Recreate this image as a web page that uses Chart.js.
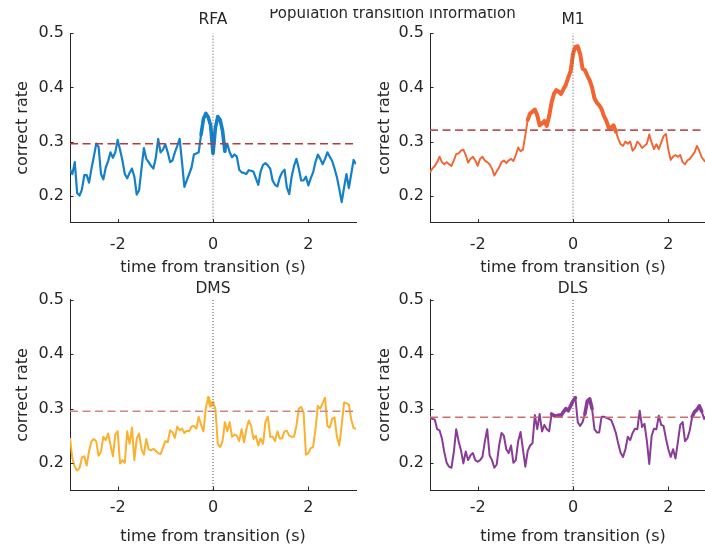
<!DOCTYPE html>
<html>
<head>
<meta charset="utf-8">
<script src="https://cdn.jsdelivr.net/npm/chart.js@4.4.1/dist/chart.umd.min.js"></script>
<style>
  html, body { margin: 0; padding: 0; background: #fff; }
  #figure { position: relative; width: 705px; height: 550px; overflow: hidden; background: #fff; }
  #figure canvas { position: absolute; }
  #suptitle { position: absolute; left: 0; top: 9px; width: 705px; height: 14px; overflow: hidden; }
  #suptitle span { position: absolute; left: 0; top: -5px; width: 785px; text-align: center;
    font: 15px "DejaVu Sans", sans-serif; line-height: 18px; color: #262626; white-space: nowrap; }
</style>
</head>
<body>
<div id="figure">
  <canvas id="rfa" width="360" height="280" style="left:0;top:0;width:360px;height:280px"></canvas>
  <canvas id="m1" width="360" height="280" style="left:360px;top:0;width:360px;height:280px"></canvas>
  <canvas id="dms" width="360" height="280" style="left:0;top:270px;width:360px;height:280px"></canvas>
  <canvas id="dls" width="360" height="280" style="left:360px;top:270px;width:360px;height:280px"></canvas>
  <div id="suptitle"><span>Population transition information</span></div>
</div>
<script>
// time bins, -3 s .. 3 s every 50 ms
var times = [];
for (var i = 0; i <= 120; i++) {
    times.push(Math.round((-3 + i * 0.05) * 100) / 100);
}

var xTickValues = [-2, 0, 2];
var yTickValues = [0.2, 0.3, 0.4, 0.5];

//correct rate per region
var rfaRate = [
    0.249, 0.240, 0.262, 0.205, 0.200, 0.211, 0.238, 0.238, 0.224, 0.250,
    0.272, 0.296, 0.290, 0.240, 0.230, 0.252, 0.264, 0.280, 0.270, 0.280,
    0.303, 0.285, 0.265, 0.240, 0.232, 0.242, 0.250, 0.235, 0.202, 0.210,
    0.250, 0.288, 0.268, 0.262, 0.255, 0.250, 0.270, 0.305, 0.280, 0.285,
    0.295, 0.280, 0.262, 0.265, 0.280, 0.292, 0.305, 0.262, 0.216, 0.228,
    0.240, 0.252, 0.276, 0.278, 0.280, 0.313, 0.342, 0.352, 0.345, 0.330,
    0.278, 0.325, 0.346, 0.340, 0.320, 0.282, 0.296, 0.280, 0.271, 0.276,
    0.272, 0.248, 0.243, 0.242, 0.240, 0.247, 0.246, 0.244, 0.232, 0.220,
    0.245, 0.257, 0.260, 0.256, 0.250, 0.228, 0.220, 0.217, 0.233, 0.243,
    0.248, 0.215, 0.203, 0.235, 0.255, 0.268, 0.250, 0.228, 0.228, 0.235,
    0.219, 0.232, 0.243, 0.262, 0.276, 0.268, 0.258, 0.268, 0.280, 0.272,
    0.264, 0.250, 0.234, 0.212, 0.188, 0.215, 0.240, 0.214, 0.240, 0.266, 0.258
];
var m1Rate = [
    0.243, 0.250, 0.255, 0.262, 0.272, 0.262, 0.258, 0.262, 0.258, 0.255,
    0.265, 0.277, 0.278, 0.283, 0.285, 0.275, 0.261, 0.268, 0.272, 0.265,
    0.255, 0.268, 0.272, 0.265, 0.262, 0.258, 0.250, 0.237, 0.245, 0.252,
    0.262, 0.265, 0.260, 0.265, 0.268, 0.264, 0.275, 0.289, 0.282, 0.285,
    0.312, 0.340, 0.352, 0.355, 0.359, 0.348, 0.330, 0.333, 0.338, 0.329,
    0.347, 0.372, 0.388, 0.395, 0.392, 0.388, 0.397, 0.405, 0.418, 0.430,
    0.462, 0.475, 0.476, 0.462, 0.435, 0.432, 0.422, 0.413, 0.400, 0.380,
    0.372, 0.367, 0.360, 0.347, 0.338, 0.325, 0.326, 0.330, 0.318, 0.305,
    0.295, 0.292, 0.300, 0.296, 0.300, 0.283, 0.288, 0.300, 0.295, 0.288,
    0.292, 0.296, 0.313, 0.298, 0.286, 0.295, 0.286, 0.298, 0.310, 0.314,
    0.285, 0.266, 0.272, 0.275, 0.272, 0.275, 0.262, 0.258, 0.265, 0.268,
    0.274, 0.280, 0.292, 0.283, 0.271, 0.265, 0.261, 0.262, 0.266, 0.270, 0.268
];
var dmsRate = [
    0.246, 0.208, 0.193, 0.186, 0.190, 0.210, 0.212, 0.195, 0.222, 0.240,
    0.244, 0.240, 0.213, 0.220, 0.248, 0.242, 0.254, 0.233, 0.212, 0.252,
    0.258, 0.199, 0.205, 0.200, 0.258, 0.235, 0.265, 0.205, 0.245, 0.254,
    0.225, 0.215, 0.244, 0.225, 0.223, 0.226, 0.222, 0.218, 0.216, 0.228,
    0.240, 0.238, 0.260, 0.256, 0.246, 0.267, 0.260, 0.263, 0.255, 0.259,
    0.258, 0.267, 0.268, 0.263, 0.285, 0.270, 0.258, 0.302, 0.320, 0.305,
    0.311, 0.300, 0.235, 0.229, 0.240, 0.275, 0.258, 0.275, 0.248, 0.252,
    0.250, 0.240, 0.262, 0.238, 0.262, 0.278, 0.268, 0.244, 0.250, 0.232,
    0.245, 0.235, 0.275, 0.285, 0.248, 0.248, 0.240, 0.258, 0.245, 0.245,
    0.258, 0.259, 0.250, 0.248, 0.248, 0.268, 0.300, 0.303, 0.293, 0.215,
    0.218, 0.227, 0.229, 0.262, 0.305, 0.300, 0.310, 0.320, 0.268, 0.265,
    0.281, 0.284, 0.248, 0.232, 0.270, 0.311, 0.310, 0.307, 0.280, 0.264, 0.263
];
var dlsRate = [
    0.282, 0.281, 0.280, 0.262, 0.260, 0.245, 0.220, 0.200, 0.193, 0.191,
    0.220, 0.262, 0.240, 0.223, 0.199, 0.221, 0.205, 0.214, 0.218, 0.205,
    0.202, 0.205, 0.211, 0.239, 0.262, 0.214, 0.205, 0.191, 0.197, 0.232,
    0.255, 0.250, 0.225, 0.218, 0.232, 0.200, 0.205, 0.240, 0.257, 0.225,
    0.193, 0.222, 0.232, 0.236, 0.288, 0.262, 0.290, 0.258, 0.270, 0.262,
    0.258, 0.290, 0.287, 0.286, 0.288, 0.287, 0.294, 0.300, 0.296, 0.305,
    0.314, 0.320, 0.275, 0.268, 0.275, 0.290, 0.314, 0.318, 0.300, 0.262,
    0.256, 0.256, 0.285, 0.285, 0.283, 0.281, 0.279, 0.268, 0.255, 0.235,
    0.218, 0.211, 0.225, 0.248, 0.242, 0.255, 0.263, 0.262, 0.296, 0.266,
    0.272, 0.240, 0.198, 0.250, 0.263, 0.262, 0.287, 0.270, 0.268, 0.245,
    0.225, 0.211, 0.225, 0.208, 0.238, 0.270, 0.275, 0.240, 0.245, 0.260,
    0.285, 0.294, 0.298, 0.305, 0.295, 0.281, 0.287, 0.285, 0.288, 0.290, 0.288
];

//chance level (shuffle threshold)
var rfaThreshold = 0.296;
var m1Threshold = 0.321;
var dmsThreshold = 0.295;
var dlsThreshold = 0.284;

//significant time windows [von, bis]
var rfaSignificant = [[-0.25, 0.25]];
var m1Significant = [[-0.95, 0.9]];
var dmsSignificant = [[-0.1, 0.0]];
var dlsSignificant = [[-0.45, 0.05], [0.25, 0.4], [2.5, 2.7]];

var axisColor = '#262626';
var fontFamily = '"DejaVu Sans", sans-serif';

var panels = [
    { id: 'rfa', title: 'RFA', values: rfaRate, threshold: rfaThreshold, sig: rfaSignificant,
      color: '#1380c8', dashColor: '#b9393c', thin: 2.2, thick: 3.6,
      padTop: 10.7, titleGap: 4, xHeight: 57.3, xTickPad: 12.7, xTitlePad: 2.4, yTitlePad: 12.9 },
    { id: 'm1', title: 'M1', values: m1Rate, threshold: m1Threshold, sig: m1Significant,
      color: '#f26430', dashColor: '#bf5558', thin: 1.9, thick: 4,
      padTop: 10.7, titleGap: 4, xHeight: 57.3, xTickPad: 12.7, xTitlePad: 2.4, yTitlePad: 15.4 },
    { id: 'dms', title: 'DMS', values: dmsRate, threshold: dmsThreshold, sig: dmsSignificant,
      color: '#fbb12f', dashColor: '#d58484', thin: 2, thick: 3.2,
      padTop: 9.7, titleGap: 1.7, xHeight: 60, xTickPad: 7.9, xTitlePad: 3.7, yTitlePad: 12.9 },
    { id: 'dls', title: 'DLS', values: dlsRate, threshold: dlsThreshold, sig: dlsSignificant,
      color: '#8a3b98', dashColor: '#d06e6e', thin: 2, thick: 3.6,
      padTop: 9.7, titleGap: 1.7, xHeight: 60, xTickPad: 7.9, xTitlePad: 3.7, yTitlePad: 15.4 }
];

function inWindow(t, windows) {
    return windows.some(w => t >= w[0] - 1e-9 && t <= w[1] + 1e-9);
}

//ticks pointing into the axes
var innerTicks = {
    id: 'innerTicks',
    afterDatasetsDraw(chart) {
        var ctx = chart.ctx;
        var area = chart.chartArea;
        var x = chart.scales.x, y = chart.scales.y;
        ctx.save();
        ctx.strokeStyle = axisColor;
        ctx.lineWidth = 1;
        ctx.beginPath();
        y.ticks.forEach(t => {
            var py = Math.round(y.getPixelForValue(t.value)) + 0.5;
            ctx.moveTo(area.left, py);
            ctx.lineTo(area.left + 3.5, py);
        });
        x.ticks.forEach(t => {
            var px = Math.round(x.getPixelForValue(t.value)) + 0.5;
            ctx.moveTo(px, area.bottom);
            ctx.lineTo(px, area.bottom - 3.5);
        });
        ctx.stroke();
        ctx.restore();
    }
};

function machPanel(p) {
    var line = times.map((t, i) => ({ x: t, y: p.values[i] }));
    var sigLine = times.map((t, i) => ({ x: t, y: inWindow(t, p.sig) ? p.values[i] : null }));
    new Chart(document.getElementById(p.id), {
        type: 'line',
        data: {
            datasets: [
                {
                    data: [{ x: 0, y: 0.15 }, { x: 0, y: 0.5 }],
                    borderColor: '#555555',
                    borderWidth: 1,
                    borderDash: [1, 2]
                }, {
                    data: [{ x: -3, y: p.threshold }, { x: 3, y: p.threshold }],
                    borderColor: p.dashColor,
                    borderWidth: 1.6,
                    borderDash: [8, 4.5]
                }, {
                    data: sigLine,
                    borderColor: p.color,
                    borderWidth: p.thick,
                    spanGaps: false,
                    borderCapStyle: 'round',
                    borderJoinStyle: 'round'
                }, {
                    data: line,
                    borderColor: p.color,
                    borderWidth: p.thin,
                    borderJoinStyle: 'round'
                }
            ]
        },
        options: {
            responsive: false,
            animation: false,
            events: [],
            parsing: false,
            normalized: true,
            elements: {
                point: { radius: 0 },
                line: { tension: 0, fill: false }
            },
            layout: {
                autoPadding: false,
                padding: { top: p.padTop, left: 0, right: 4, bottom: 0 }
            },
            plugins: {
                legend: { display: false },
                tooltip: { enabled: false },
                title: {
                    display: true,
                    text: p.title,
                    fullSize: false,
                    color: axisColor,
                    font: { family: fontFamily, size: 15.5, weight: 'normal' },
                    padding: { top: 0, bottom: p.titleGap }
                }
            },
            scales: {
                x: {
                    type: 'linear',
                    min: -3,
                    max: 3,
                    afterBuildTicks: s => { s.ticks = xTickValues.map(v => ({ value: v })); },
                    afterFit: s => { s.height = p.xHeight; },
                    grid: { display: true, drawOnChartArea: false, drawTicks: false },
                    border: { display: true, color: axisColor, width: 1 },
                    ticks: {
                        color: axisColor,
                        padding: p.xTickPad,
                        maxRotation: 0,
                        autoSkip: false,
                        font: { family: fontFamily, size: 16 },
                        callback: v => String(v)
                    },
                    title: {
                        display: true,
                        text: 'time from transition (s)',
                        color: axisColor,
                        font: { family: fontFamily, size: 16 },
                        padding: { top: 0, bottom: p.xTitlePad }
                    }
                },
                y: {
                    min: 0.15,
                    max: 0.5,
                    afterBuildTicks: s => { s.ticks = yTickValues.map(v => ({ value: v })); },
                    afterFit: s => { s.width = 70; },
                    grid: { display: true, drawOnChartArea: false, drawTicks: false },
                    border: { display: true, color: axisColor, width: 1 },
                    ticks: {
                        color: axisColor,
                        padding: 6,
                        autoSkip: false,
                        font: { family: fontFamily, size: 16 },
                        callback: v => v.toFixed(1)
                    },
                    title: {
                        display: true,
                        text: 'correct rate',
                        color: axisColor,
                        font: { family: fontFamily, size: 16 },
                        padding: { top: p.yTitlePad, bottom: 0 }
                    }
                }
            }
        },
        plugins: [innerTicks]
    });
}

panels.forEach(p => machPanel(p));
</script>
</body>
</html>
